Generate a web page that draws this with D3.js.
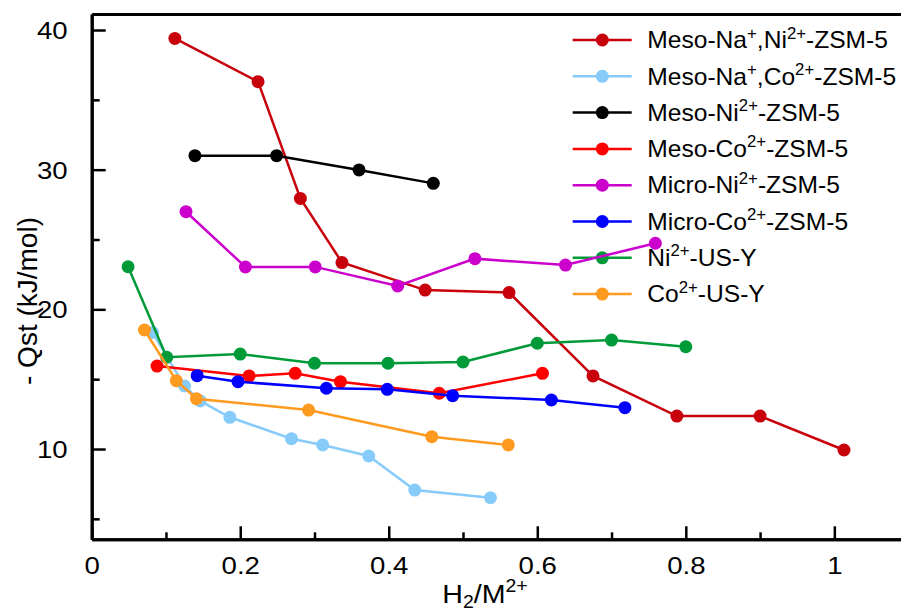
<!DOCTYPE html>
<html>
<head>
<meta charset="utf-8">
<script src="https://cdn.jsdelivr.net/npm/d3@7"></script>
<style>
  body { margin: 0; background: #fff; }
  svg text { font-family: "Liberation Sans", Arial, sans-serif; fill: #000; }
</style>
</head>
<body>
<div id="chart"></div>
<script>
// legend labels (^..^ = superscript, _.._ = subscript) and colours
var seriesNames = [
    "Meso-Na^+^,Ni^2+^-ZSM-5",
    "Meso-Na^+^,Co^2+^-ZSM-5",
    "Meso-Ni^2+^-ZSM-5",
    "Meso-Co^2+^-ZSM-5",
    "Micro-Ni^2+^-ZSM-5",
    "Micro-Co^2+^-ZSM-5",
    "Ni^2+^-US-Y",
    "Co^2+^-US-Y"
];
var seriesColors = ["#c8000c", "#87cbfa", "#000000", "#ff0000", "#cc00cc", "#0000ff", "#009a38", "#ff9a20"];

// values: H2/M2+ ratio (x) and -Qst in kJ/mol (y)
var mesoNaNiX = [0.112, 0.224, 0.281, 0.337, 0.449, 0.562, 0.675, 0.788, 0.900, 1.013];
var mesoNaNiY = [39.40, 36.30, 27.94, 23.35, 21.38, 21.20, 15.23, 12.36, 12.36, 9.93];

var mesoNaCoX = [0.082, 0.125, 0.146, 0.186, 0.269, 0.311, 0.373, 0.435, 0.537];
var mesoNaCoY = [18.34, 14.51, 13.44, 12.27, 10.74, 10.29, 9.50, 7.06, 6.51];

var mesoNiX = [0.139, 0.249, 0.360, 0.460];
var mesoNiY = [31.0, 31.0, 29.98, 29.02];

var mesoCoX = [0.088, 0.212, 0.274, 0.335, 0.468, 0.607];
var mesoCoY = [15.94, 15.23, 15.42, 14.82, 13.99, 15.42];

var microNiX = [0.127, 0.207, 0.301, 0.412, 0.516, 0.638, 0.759];
var microNiY = [26.99, 23.03, 23.04, 21.67, 23.63, 23.17, 24.73];

var microCoX = [0.142, 0.197, 0.316, 0.398, 0.486, 0.619, 0.718];
var microCoY = [15.25, 14.82, 14.35, 14.27, 13.82, 13.51, 12.96];

var niUSYX = [0.049, 0.101, 0.200, 0.300, 0.399, 0.500, 0.600, 0.700, 0.800];
var niUSYY = [23.05, 16.57, 16.80, 16.14, 16.14, 16.23, 17.57, 17.80, 17.32];

var coUSYX = [0.071, 0.114, 0.141, 0.292, 0.458, 0.561];
var coUSYY = [18.52, 14.89, 13.60, 12.79, 10.88, 10.29];

var xTicks = [0, 0.2, 0.4, 0.6, 0.8, 1];
var xMinorTicks = [0.1, 0.3, 0.5, 0.7, 0.9];
var yTicks = [10, 20, 30, 40];
var yMinorTicks = [5, 15, 25, 35];

function init() {

    var w = 901;
    var h = 614;

    var allX = [mesoNaNiX, mesoNaCoX, mesoNiX, mesoCoX, microNiX, microCoX, niUSYX, coUSYX];
    var allY = [mesoNaNiY, mesoNaCoY, mesoNiY, mesoCoY, microNiY, microCoY, niUSYY, coUSYY];

    var series = seriesNames.map(function (name, i) {
        return {
            name: name,
            color: seriesColors[i],
            points: allX[i].map(function (x, j) { return { x: x, y: allY[i][j] }; })
        };
    });

    // the figure is cropped on the right, so the x range runs past the svg
    var xScale = d3.scaleLinear().domain([0, 1.1]).range([91.7, 908.6]);
    var yScale = d3.scaleLinear().domain([3.535, 41.146]).range([539.3, 14]);

    var svg = d3.select("#chart").append("svg")
        .attr("width", w)
        .attr("height", h);

    // writes text with ^sup^ and _sub_ parts as tspans
    function richText(sel, str, size) {
        var re = /\^([^^]+)\^|_([^_]+)_|([^^_]+)/g, m, shift = 0;
        while ((m = re.exec(str)) !== null) {
            var target = 0, fs = size, txt = m[3];
            if (m[1]) { target = -size * 0.42; fs = size * 0.68; txt = m[1]; }
            if (m[2]) { target = size * 0.2; fs = size * 0.68; txt = m[2]; }
            sel.append("tspan")
                .attr("font-size", fs)
                .attr("dy", target - shift)
                .text(txt);
            shift = target;
        }
    }

    var tickStretch = 1.15;

    // x axis, ticks point inward
    var xAxis = d3.axisBottom(xScale)
        .tickValues(xTicks)
        .tickSizeInner(-13)
        .tickSizeOuter(0)
        .tickPadding(17.5)
        .tickFormat(function (d) { return String(d); });

    var gx = svg.append("g")
        .attr("class", "axis")
        .attr("transform", "translate(0," + yScale.range()[0] + ")")
        .call(xAxis);

    svg.append("g")
        .attr("class", "axis minor")
        .attr("transform", "translate(0," + yScale.range()[0] + ")")
        .call(d3.axisBottom(xScale).tickValues(xMinorTicks).tickSizeInner(-7).tickSizeOuter(0).tickFormat(""));

    // y axis
    var yAxis = d3.axisLeft(yScale)
        .tickValues(yTicks)
        .tickSizeInner(-14)
        .tickSizeOuter(0)
        .tickPadding(24);

    var gy = svg.append("g")
        .attr("class", "axis")
        .attr("transform", "translate(" + xScale.range()[0] + ",0)")
        .call(yAxis);

    svg.append("g")
        .attr("class", "axis minor")
        .attr("transform", "translate(" + xScale.range()[0] + ",0)")
        .call(d3.axisLeft(yScale).tickValues(yMinorTicks).tickSizeInner(-8).tickSizeOuter(0).tickFormat(""));

    // top frame line
    svg.append("g")
        .attr("class", "axis")
        .attr("transform", "translate(0," + yScale.range()[1] + ")")
        .call(d3.axisTop(xScale).tickValues([]).tickSizeOuter(0));

    svg.selectAll(".axis path.domain").attr("stroke", "#000").attr("stroke-width", 3);
    svg.selectAll(".axis .tick line").attr("stroke", "#000").attr("stroke-width", 2.5);
    svg.selectAll(".axis .tick text")
        .attr("font-size", 24)
        .attr("font-family", "Liberation Sans, Arial, sans-serif")
        .attr("fill", "#000");

    gx.selectAll(".tick text").attr("transform", "scale(" + tickStretch + ",1)");
    gy.selectAll(".tick text")
        .attr("x", -24 / tickStretch)
        .attr("dy", "0.36em")
        .attr("transform", "scale(" + tickStretch + ",1)");

    // axis titles
    var xt = svg.append("text")
        .attr("text-anchor", "middle")
        .attr("font-size", 26)
        .attr("transform", "translate(485,603) scale(1.1,1)");
    richText(xt, "H_2_/M^2+^", 26);

    svg.append("text")
        .attr("text-anchor", "middle")
        .attr("font-size", 28)
        .attr("transform", "translate(37,301) rotate(-90)")
        .text("- Qst (kJ/mol)");

    // legend
    var legend = svg.append("g").attr("class", "legend");
    var rows = legend.selectAll("g").data(series).enter().append("g")
        .attr("transform", function (d, i) { return "translate(572.7," + (40 + i * 36.3) + ")"; });

    rows.append("line")
        .attr("x1", 0).attr("x2", 59)
        .attr("stroke", function (d) { return d.color; })
        .attr("stroke-width", 2.5);
    rows.append("circle")
        .attr("cx", 29.6).attr("r", 6.5)
        .attr("fill", function (d) { return d.color; });
    rows.each(function (d) {
        var t = d3.select(this).append("text")
            .attr("font-size", 23)
            .attr("transform", "translate(74.6,8.2) scale(1.07,1)");
        richText(t, d.name, 23);
    });

    // series lines and markers
    var line = d3.line()
        .x(function (d) { return xScale(d.x); })
        .y(function (d) { return yScale(d.y); });

    var groups = svg.selectAll(".series").data(series).enter().append("g")
        .attr("class", "series");

    groups.append("path")
        .attr("d", function (d) { return line(d.points); })
        .attr("fill", "none")
        .attr("stroke", function (d) { return d.color; })
        .attr("stroke-width", 2.5);

    groups.selectAll("circle")
        .data(function (d) { return d.points.map(function (p) { return { p: p, c: d.color }; }); })
        .enter().append("circle")
        .attr("cx", function (d) { return xScale(d.p.x); })
        .attr("cy", function (d) { return yScale(d.p.y); })
        .attr("r", 6.5)
        .attr("fill", function (d) { return d.c; });
}

window.onload = init;
</script>
</body>
</html>
